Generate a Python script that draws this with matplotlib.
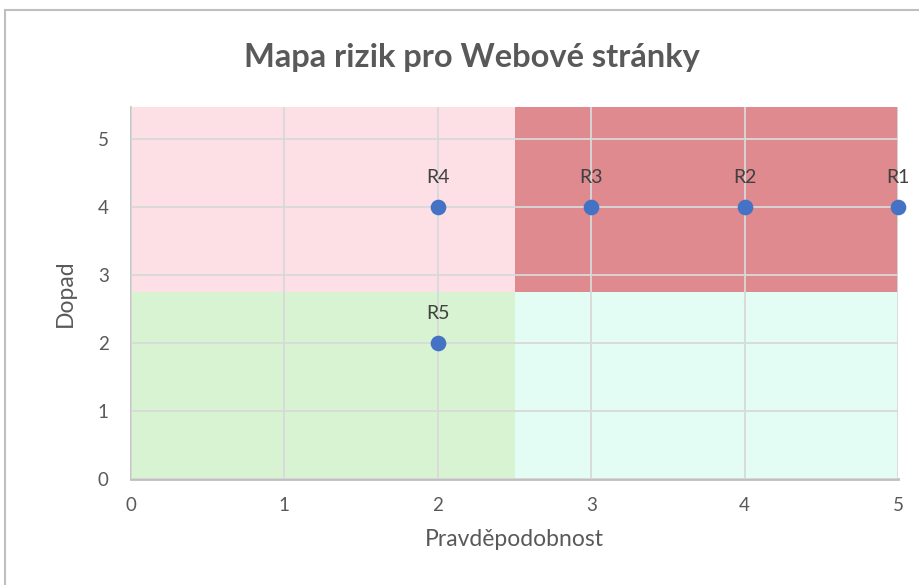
import matplotlib
matplotlib.use("Agg")
import matplotlib.pyplot as plt
from matplotlib.patches import Rectangle

# data
risks = ["R1", "R2", "R3", "R4", "R5"]
pravdepodobnost = [5, 4, 3, 2, 2]
dopad = [4, 4, 4, 4, 2]

# background zones: (x0, y0, width, height, colour)
zone_x = [0, 2.5, 0, 2.5]
zone_y = [2.75, 2.75, 0, 0]
zone_w = [2.5, 2.5, 2.5, 2.5]
zone_h = [2.75, 2.75, 2.75, 2.75]
zone_c = ["#FDE0E6", "#DE8A8F", "#D8F3D2", "#E3FCF4"]

plt.rcParams['font.family'] = ['Lato', 'DejaVu Sans']

fig = plt.figure(figsize=(9.19, 5.85), dpi=100)
ax = fig.add_axes([131/919, 1 - 479/585, (898-131)/919, (479-107)/585])

for x0, y0, w, h, c in zip(zone_x, zone_y, zone_w, zone_h, zone_c):
    ax.add_patch(Rectangle((x0, y0), w, h, facecolor=c, edgecolor='none', zorder=0))

ax.set_xlim(0, 5)
ax.set_ylim(0, 5.47)
ax.set_xticks(range(0, 6))
ax.set_yticks(range(0, 6))
ax.grid(True, color="#D9D9D9", linewidth=1.3, zorder=1)
ax.set_axisbelow(False)

ax.scatter(pravdepodobnost, dopad, s=105, color="#4472C4", zorder=3, clip_on=False)
for name, x, y in zip(risks, pravdepodobnost, dopad):
    ax.annotate(name, (x, y), xytext=(0, 21), textcoords='offset points',
                ha='center', va='center', fontsize=14, color="#404040")

for s in ['top', 'right']:
    ax.spines[s].set_visible(False)
ax.spines['left'].set_color("#BFBFBF")
ax.spines['bottom'].set_color("#BFBFBF")
ax.spines['left'].set_linewidth(1.3)
ax.spines['bottom'].set_linewidth(2)
ax.tick_params(length=0, labelsize=13.5, labelcolor="#595959", pad=13)
ax.tick_params(axis='y', pad=16)

ax.set_xlabel("Pravděpodobnost", fontsize=16.5, color="#595959", labelpad=11)
ax.set_ylabel("Dopad", fontsize=16.5, color="#595959", labelpad=16)
fig.text(0.514, 1 - 57/585, "Mapa rizik pro Webové stránky", ha='center', va='center',
         fontsize=23.5, fontweight='bold', color="#595959")

# chart frame
fig.patches.append(Rectangle((5/919, -0.1), 1.2, 1 - 10/585 + 0.1, transform=fig.transFigure,
                             facecolor='none', edgecolor="#BFBFBF", linewidth=1.5))

fig.savefig("out.png", dpi=100)
